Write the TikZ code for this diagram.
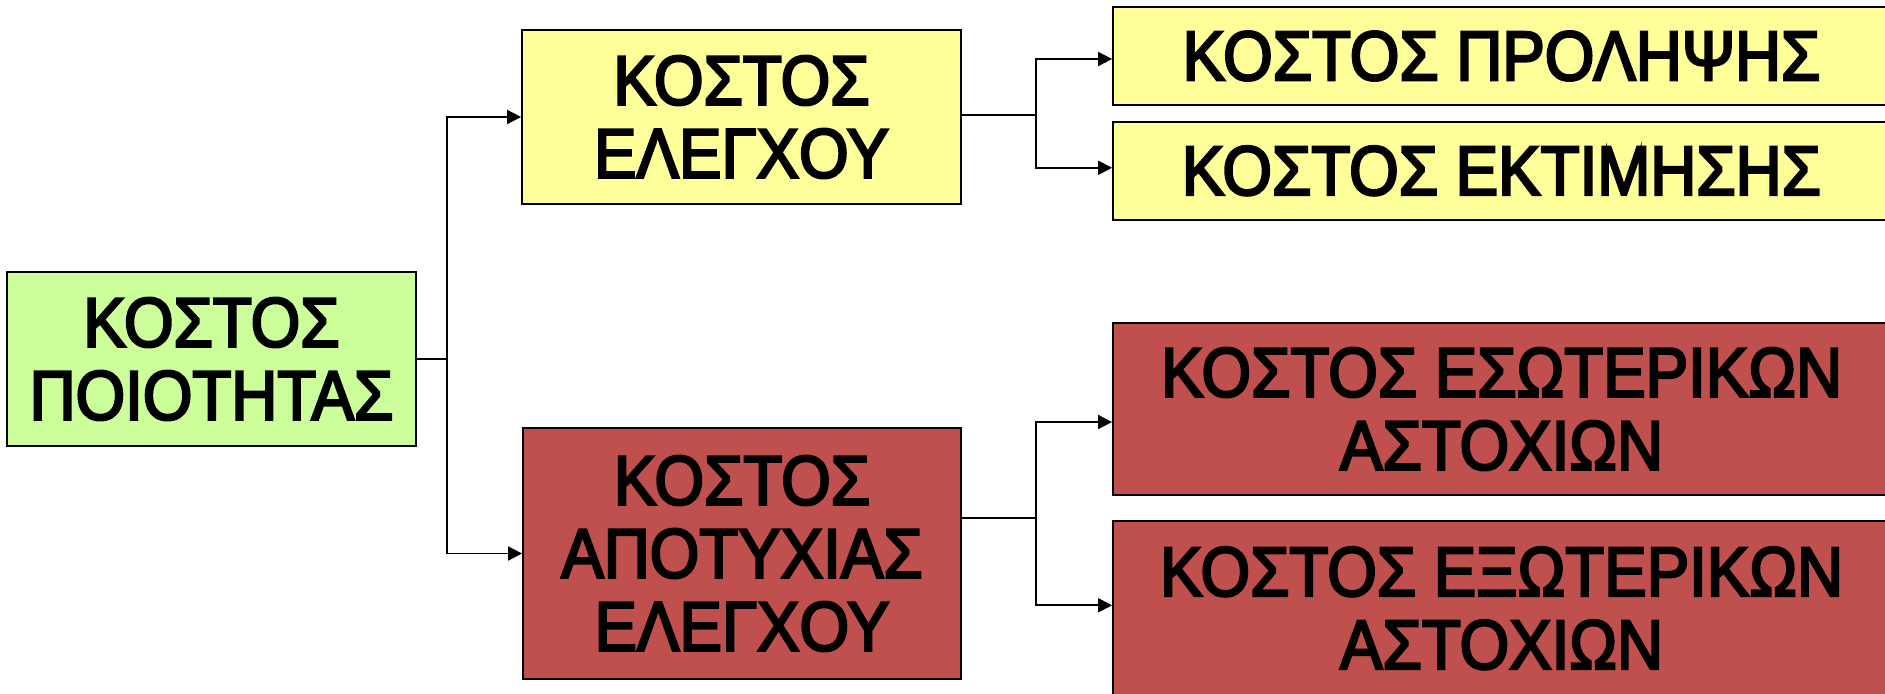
\documentclass[tikz,border=0pt]{standalone}
\usepackage{fontspec}
\setmainfont{Liberation Sans}[FakeStretch=0.91,FakeBold=3.4]
\usepackage{xcolor}
\usetikzlibrary{positioning,arrows.meta}
\definecolor{costgreen}{RGB}{204,255,153}
\definecolor{costyellow}{RGB}{255,255,153}
\definecolor{costred}{RGB}{192,80,77}

\begin{document}
\begin{tikzpicture}[x=0.5pt,y=0.5pt,
box/.style={draw,rectangle,line width=0.9pt,inner sep=0pt,align=center,
    font=\fontsize{35}{36.5}\selectfont},
wide/.style={box,minimum width=388.5pt},
arr/.style={line width=0.9pt,-{Triangle[length=7pt,width=7pt]}},
lnk/.style={line width=0.9pt}]
\useasboundingbox (0,0) rectangle (1885,693);
\clip (0,0) rectangle (1885,693);
% first level
\node (quality) [box,fill=costgreen,minimum width=204.5pt,minimum height=87pt]
    at (211.5,334) {ΚΟΣΤΟΣ\\ΠΟΙΟΤΗΤΑΣ};
\node (control) [box,fill=costyellow,minimum width=219.5pt,minimum height=87pt]
    at (741.5,576) {ΚΟΣΤΟΣ\\ΕΛΕΓΧΟΥ};
\node (failure) [box,fill=costred,minimum width=219pt,minimum height=125.5pt]
    at (742,139.5) {ΚΟΣΤΟΣ\\ΑΠΟΤΥΧΙΑΣ\\ΕΛΕΓΧΟΥ};
% second level
\node (prevent) [wide,fill=costyellow,minimum height=49pt]
    at (1501.5,637) {ΚΟΣΤΟΣ ΠΡΟΛΗΨΗΣ};
\node (apprais) [wide,fill=costyellow,minimum height=49pt,below=7.5pt of prevent]
    {ΚΟΣΤΟΣ ΕΚΤΙΜΗΣΗΣ};
\node (internal) [wide,fill=costred,minimum height=86pt]
    at (1501.5,284) {ΚΟΣΤΟΣ ΕΣΩΤΕΡΙΚΩΝ\\ΑΣΤΟΧΙΩΝ};
\node (external) [wide,fill=costred,minimum height=87.5pt,below=12pt of internal]
    {ΚΟΣΤΟΣ ΕΞΩΤΕΡΙΚΩΝ\\ΑΣΤΟΧΙΩΝ};
% connectors
\coordinate (jq) at (447,334);
\coordinate (jc) at (1036,578);
\coordinate (jf) at (1036,175);
\draw[lnk] (quality.east) -- (jq);
\draw[arr] (jq) |- (control.west);
\draw[arr] (jq) |- (failure.west);
\draw[lnk] (control.east |- jc) -- (jc);
\draw[arr] (jc) |- ([yshift=-1.5pt]prevent.west);
\draw[arr] (jc) |- ([yshift=1.5pt]apprais.west);
\draw[lnk] (failure.east |- jf) -- (jf);
\draw[arr] (jf) |- ([yshift=-6.5pt]internal.west);
\draw[arr] (jf) |- ([yshift=1.5pt]external.west);
\end{tikzpicture}
\end{document}
